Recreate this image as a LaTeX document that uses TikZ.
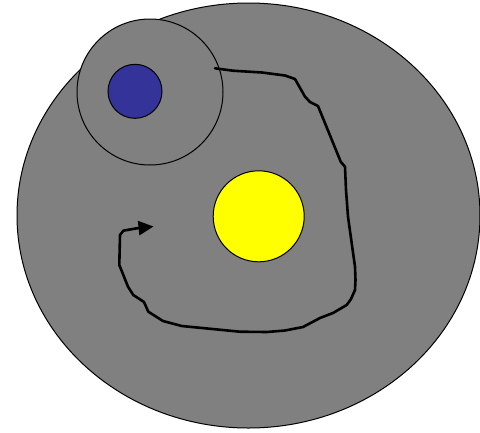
\documentclass[tikz,border=0pt]{standalone}
\usetikzlibrary{arrows.meta}
\definecolor{cellgrey}{HTML}{808080}
\definecolor{nucblue}{HTML}{333399}
\definecolor{sunyellow}{HTML}{FFFF00}
\begin{document}
\begin{tikzpicture}[x=1pt,y=-1pt,
  shapeline/.style={draw=black,line width=1pt},
  pathline/.style={draw=black,line width=2.6pt,line join=round,line cap=round,
    -{Triangle[length=15pt,width=14pt]}}]
\useasboundingbox (0,0) rectangle (480,432);
\fill[white] (0,0) rectangle (480,432);
\path[shapeline,fill=cellgrey] (248.5,215.5) ellipse [x radius=231.5, y radius=212.5];
\node[shapeline,fill=cellgrey,circle,minimum size=146pt,inner sep=0pt] (outer) at (150,92) {};
\node[shapeline,fill=nucblue,circle,minimum size=54pt,inner sep=0pt] (blue) at (135,91.3) {};
\node[shapeline,fill=sunyellow,circle,minimum size=91pt,inner sep=0pt] (yellow) at (258.7,216.3) {};
\coordinate (start) at (215,68.3);
\coordinate (tip) at (153.5,226.5);
\draw[pathline] (start) -- (233,70.7) -- (262,72.5) -- (285,75.5) -- (295,79) -- (305,96.7) -- (310,102) -- (318,106)
  -- (338,155) -- (340.7,161.7) -- (345,166.7) -- (346,190) -- (348,216.7) -- (355,266.7)
  -- (355.5,280) -- (355,290) -- (351,299) -- (346.7,305) -- (333,313) -- (320,318) -- (303,327)
  -- (285,330.5) -- (267,332) -- (240,331.7) -- (181.7,326) -- (163,321) -- (148.3,311.7)
  -- (144,302) -- (133.3,295) -- (128,286.7) -- (119.3,265) -- (120,235) -- (123.3,230.7)
  -- (136.7,228.3) -- (tip);
\end{tikzpicture}
\end{document}
